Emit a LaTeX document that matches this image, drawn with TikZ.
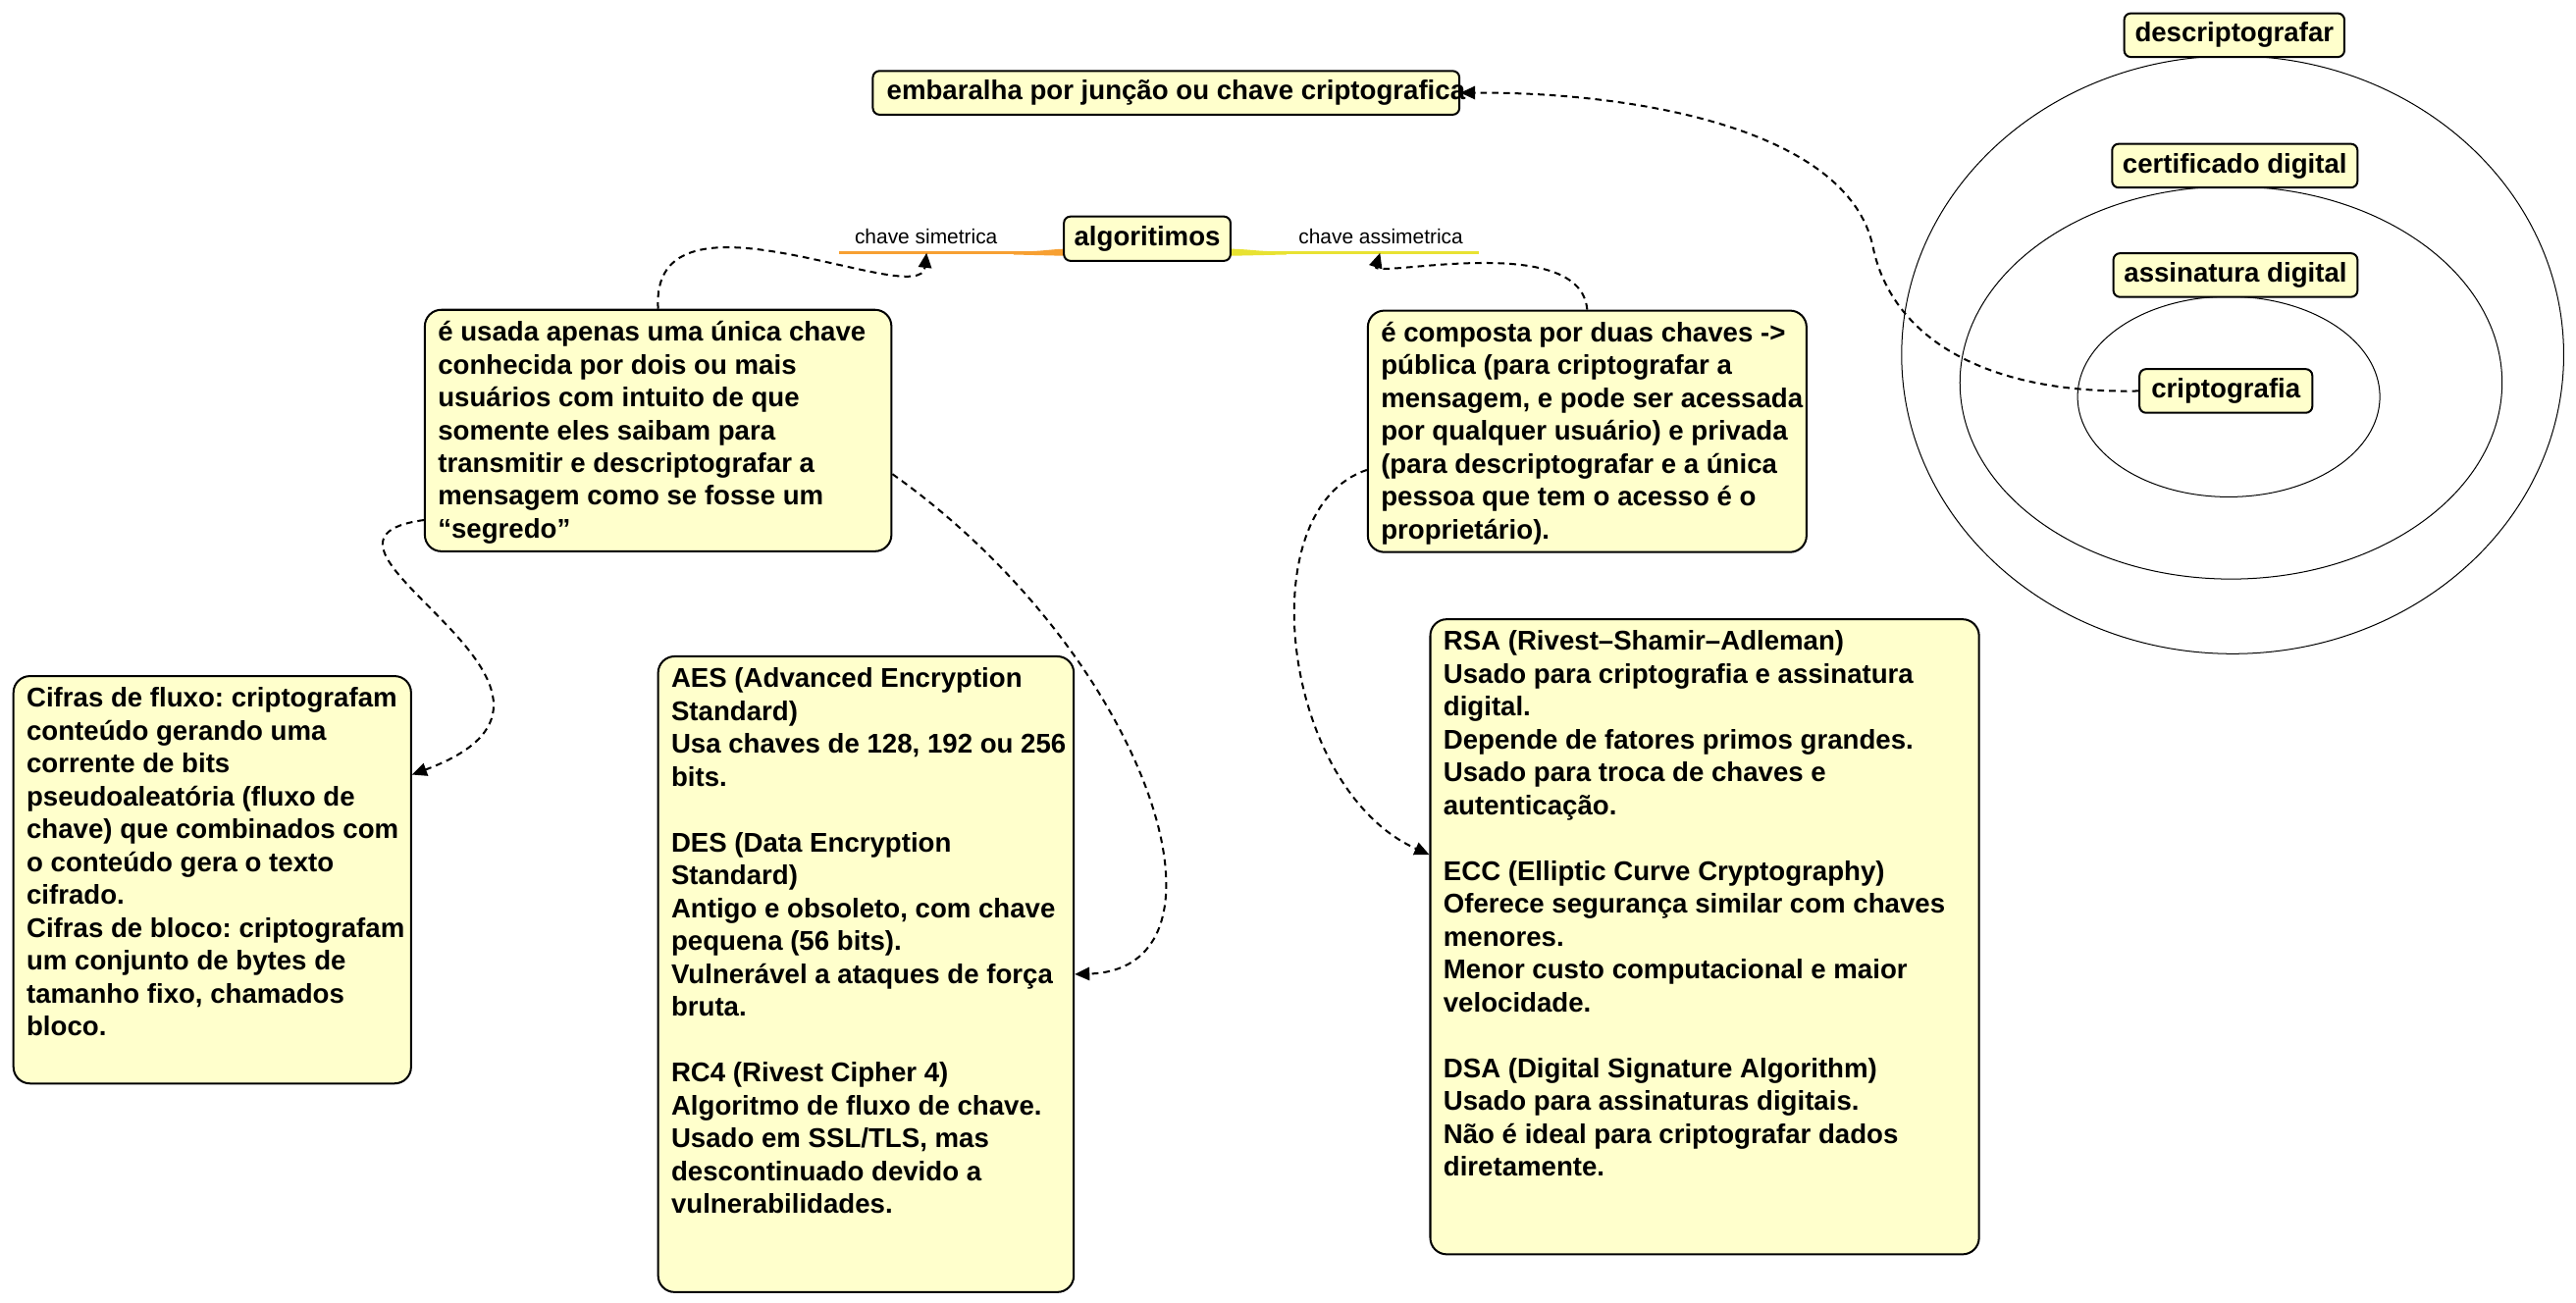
\documentclass[tikz,border=0pt]{standalone}
\usepackage{fontspec}
\setmainfont{Liberation Sans}
\usetikzlibrary{arrows.meta,calc}
\frenchspacing
\definecolor{boxfill}{RGB}{255,255,204}
\definecolor{symcol}{RGB}{247,160,50}
\definecolor{asymcol}{RGB}{232,226,50}
\newcommand\bigtxt[3]{\parbox[t][#2][t]{#1}{\begin{tabular}[t]{@{}l@{}}#3\end{tabular}}}
\tikzset{
  bigbox/.style={draw, line width=1.2pt, rounded corners=10pt, fill=boxfill, anchor=north west,
    inner xsep=8pt, inner ysep=5pt, font=\fontsize{16.5}{20}\selectfont\bfseries},
  smallbox/.style={draw, line width=1.2pt, rounded corners=4pt, fill=boxfill, inner sep=0pt,
    minimum height=26.6pt, font=\fontsize{16.5}{20}\selectfont\bfseries},
  lbl/.style={font=\fontsize{12.5}{15}\selectfont, inner sep=0pt},
  link/.style={line width=1.2pt, dash pattern=on 4pt off 3pt, -{Triangle[length=9pt,width=8pt]}},
  ring/.style={line width=0.6pt},
}
\begin{document}
\begin{tikzpicture}[x=1pt,y=-1pt]
\fill[white] (0,0) rectangle (1568,793.2);
\useasboundingbox (0,0) rectangle (1568,793.2);

% concentric ellipses
\draw[ring] (1359,216) ellipse [x radius=201.5, y radius=182];
\draw[ring] (1358,233) ellipse [x radius=165, y radius=119.5];
\draw[ring] (1356.6,241.5) ellipse [x radius=92, y radius=61];

% small boxes
\node[smallbox, minimum width=134pt] (desc) at (1360,21.4) {descriptografar};
\node[smallbox, minimum width=149.4pt] (cert) at (1360.3,100.9) {certificado digital};
\node[smallbox, minimum width=148.6pt] (assi) at (1360.7,167.5) {assinatura digital};
\node[smallbox, minimum width=105.2pt] (crip) at (1354.9,238) {criptografia};
\node[smallbox, minimum width=357pt] (emb) at (709.8,56.5) {\makebox[357pt][l]{\hspace{8.5pt}embaralha por junção ou chave criptografica}};

% coloured label lines
\coordinate (symL) at (511,154);
\coordinate (asymR) at (900,154);
\draw[symcol, line width=1.6pt] (symL) -- (650,154);
\draw[asymcol, line width=1.6pt] (asymR) -- (747,154);
\fill[symcol] (617,153.2) .. controls (635,153.2) and (640,151.5) .. (650,151.5)
  -- (650,155.8) -- (617,155) -- cycle;
\fill[asymcol] (783,153.2) .. controls (765,153.2) and (760,151.5) .. (747,151.5)
  -- (747,155.8) -- (783,155) -- cycle;
\node[smallbox, minimum width=101.4pt, minimum height=27pt] (alg) at (698.3,145.3) {algoritimos};
\node[lbl, anchor=base] (lsym) at (563.7,148.7) {chave simetrica};
\node[lbl, anchor=base] (lasym) at (840.5,148.7) {chave assimetrica};
\coordinate (symtip) at (564,154);
\coordinate (asymtip) at (840,154);

% big boxes
\node[bigbox] (sym) at (258,188) {\bigtxt{268pt}{137pt}{%
é usada apenas uma única chave\\
conhecida por dois ou mais\\
usuários com intuito de que\\
somente eles saibam para\\
transmitir e descriptografar a\\
mensagem como se fosse um\\
“segredo”}};

\node[bigbox] (asym) at (832,188.5) {\bigtxt{251pt}{137pt}{%
é composta por duas chaves ->\\
pública (para criptografar a\\
mensagem, e pode ser acessada\\
por qualquer usuário) e privada\\
(para descriptografar e a única\\
pessoa que tem o acesso é o\\
proprietário).}};

\node[bigbox] (cif) at (7.6,411) {\bigtxt{226pt}{238pt}{%
Cifras de fluxo: criptografam\\
conteúdo gerando uma\\
corrente de bits\\
pseudoaleatória (fluxo de\\
chave) que combinados com\\
o conteúdo gera o texto\\
cifrado.\\
Cifras de bloco: criptografam\\
um conjunto de bytes de\\
tamanho fixo, chamados\\
bloco.}};

\node[bigbox] (aes) at (400,399) {\bigtxt{237pt}{377pt}{%
AES (Advanced Encryption\\
Standard)\\
Usa chaves de 128, 192 ou 256\\
bits.\\
\\
DES (Data Encryption\\
Standard)\\
Antigo e obsoleto, com chave\\
pequena (56 bits).\\
Vulnerável a ataques de força\\
bruta.\\
\\
RC4 (Rivest Cipher 4)\\
Algoritmo de fluxo de chave.\\
Usado em SSL/TLS, mas\\
descontinuado devido a\\
vulnerabilidades.}};

\node[bigbox] (rsa) at (870,376.4) {\bigtxt{318pt}{376.6pt}{%
RSA (Rivest–Shamir–Adleman)\\
Usado para criptografia e assinatura\\
digital.\\
Depende de fatores primos grandes.\\
Usado para troca de chaves e\\
autenticação.\\
\\
ECC (Elliptic Curve Cryptography)\\
Oferece segurança similar com chaves\\
menores.\\
Menor custo computacional e maior\\
velocidade.\\
\\
DSA (Digital Signature Algorithm)\\
Usado para assinaturas digitais.\\
Não é ideal para criptografar dados\\
diretamente.}};

% connectors
\draw[link] (sym.north) .. controls (395,105) and (560,190) .. (symtip);
\draw[link] (asym.north) .. controls (962,140) and (835,170) .. (asymtip);
\draw[link] ($(sym.west)+(0,54.5)$) .. controls (160,330) and (390,420) .. ($(cif.east)+(0,-64)$);
\draw[link] ($(sym.east)+(0,26.5)$) .. controls (700,400) and (760,590) .. (aes.east);
\draw[link] ($(asym.west)+(0,23.5)$) .. controls (760,310) and (780,480) .. ($(rsa.west)+(0,-50)$);
\draw[link] (crip.west) .. controls (1200,240) and (1150,200) .. (1140,150)
  .. controls (1125,80) and (1000,56) .. (emb.east);
\end{tikzpicture}
\end{document}
